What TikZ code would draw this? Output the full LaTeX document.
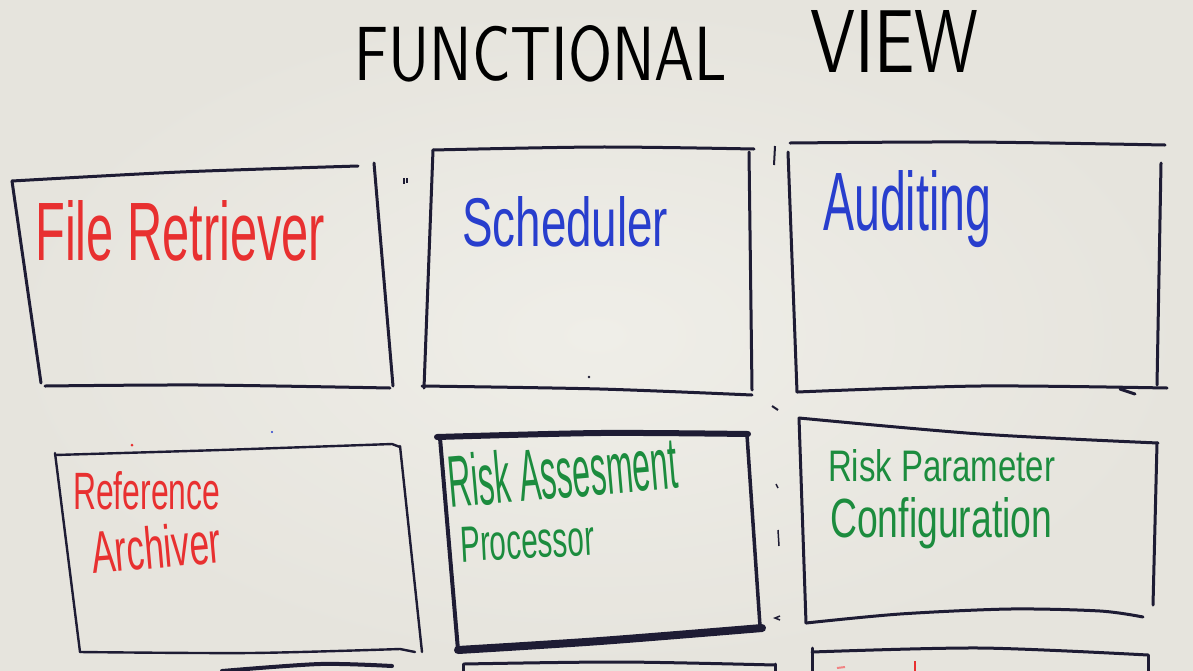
\documentclass[tikz,border=0pt]{standalone}
\usepackage{fontspec}
\setmainfont{Liberation Sans}
\usepackage{graphicx}

% marker colours on a flip-chart sheet
\definecolor{paper}{RGB}{230,228,221}
\definecolor{paperhi}{RGB}{239,238,232}
\definecolor{ink}{RGB}{30,28,52}
\definecolor{redpen}{RGB}{232,48,48}
\definecolor{bluepen}{RGB}{40,62,205}
\definecolor{greenpen}{RGB}{28,140,62}

% text squeezed into a given width and height (in pt)
\newcommand\handtext[3]{\resizebox{#1pt}{#2pt}{#3}}

\tikzset{
  pen/.style={draw=ink, line width=3pt, line cap=round, line join=round},
  thinpen/.style={pen, line width=2.4pt},
  heavypen/.style={pen, line width=6pt},
  label/.style={inner sep=0pt, anchor=base west},
}

\begin{document}
\begin{tikzpicture}[x=1pt,y=-1pt]
  \useasboundingbox (0,0) rectangle (1193,670);
  \shade[inner color=paperhi, outer color=paper] (0,0) rectangle (1193,670);

  % heading
  \node[label, font=\sffamily] (titleA) at (354,80) {\handtext{373}{55}{FUNCTIONAL}};
  \node[label, font=\sffamily] (titleB) at (810,72) {\handtext{168}{62}{VIEW}};

  % ---- top row ----
  % File Retriever
  \draw[pen] plot[smooth] coordinates {(12,181) (180,172) (358,166)};
  \draw[pen] (12,181) -- (41,383);
  \draw[pen] plot[smooth] coordinates {(45,386) (200,385) (390,388)};
  \draw[pen] (374,163) -- (393,386);
  \node[label, text=redpen] (fileret) at (35,260) {\handtext{290}{60}{File Retriever}};

  % Scheduler
  \draw[pen] plot[smooth] coordinates {(433,150) (600,147) (754,149)};
  \draw[pen] (433,150) -- (424,388);
  \draw[pen] plot[smooth] coordinates {(422,386) (600,389) (752,395)};
  \draw[pen] (749,152) -- (752,390);
  \node[label, text=bluepen] (sched) at (462,246) {\handtext{206}{50}{Scheduler}};

  % Auditing
  \draw[pen] plot[smooth] coordinates {(790,143) (970,142) (1165,145)};
  \draw[pen] (788,152) -- (797,392);
  \draw[pen] plot[smooth] coordinates {(797,392) (980,386) (1167,388)};
  \draw[pen] (1120,389) -- (1135,394);
  \draw[pen] (1161,163) -- (1157,385);
  \node[label, text=bluepen] (audit) at (823,230) {\handtext{168}{60}{Auditing}};

  % ---- middle row ----
  % Reference Archiver
  \draw[thinpen] plot[smooth] coordinates {(55,455) (220,450) (392,444)} -- (400,447);
  \draw[thinpen] (55,453) -- (80,652);
  \draw[thinpen] plot[smooth] coordinates {(80,652) (250,653) (400,649)} -- (415,652);
  \draw[thinpen] (400,446) -- (422,652);
  \node[label, text=redpen] (refA) at (73,509) {\handtext{147}{38}{Reference}};
  \node[label, text=redpen, rotate=5] (refB) at (93,574) {\handtext{130}{43}{Archiver}};

  % Risk Assesment Processor
  \draw[heavypen] plot[smooth] coordinates {(437,437) (600,433) (748,434)};
  \draw[pen, line width=4pt] (440,438) -- (458,650);
  \draw[pen, line width=8pt] plot[smooth] coordinates {(458,650) (600,641) (762,628)};
  \draw[pen, line width=3.5pt] (747,435) -- (760,626);
  \node[label, text=greenpen, rotate=5] (riskA) at (450,508) {\handtext{230}{53}{Risk Assesment}};
  \node[label, text=greenpen, rotate=3] (riskB) at (461,562) {\handtext{134}{35}{Processor}};

  % Risk Parameter Configuration
  \draw[pen] plot[smooth] coordinates {(799,418) (980,434) (1158,443)};
  \draw[pen] (799,418) -- (806,623);
  \draw[pen] plot[smooth] coordinates {(806,623) (900,614) (1010,609) (1100,611) (1143,617)};
  \draw[pen] (1157,443) -- (1153,605);
  \node[label, text=greenpen] (paramA) at (828,481) {\handtext{227}{32}{Risk Parameter}};
  \node[label, text=greenpen] (paramB) at (830,537) {\handtext{222}{40}{Configuration}};

  % ---- bottom row, cut off by the sheet edge ----
  \draw[pen, line width=4pt] plot[smooth] coordinates {(222,671) (320,664) (392,666)};
  \draw[pen] plot[smooth] coordinates {(464,664) (620,662) (775,665)};
  \draw[pen] (463,664) -- (463,672);
  \draw[pen] (775,664) -- (775,672);
  \draw[pen] plot[smooth] coordinates {(812,652) (980,648) (1148,655)};
  \draw[pen] (812,648) -- (812,672);
  \draw[pen] (1148,655) -- (1148,672);
  \draw[redpen, line width=2pt] (915,661) -- (915,672);
  \draw[redpen!60, line width=2pt] (837,668) -- (845,667);

  % stray marker touches
  \draw[ink, line width=1.5pt] (404,178) -- (404,184) (407,178) -- (407,183);
  \draw[ink, line width=2pt] (775,146) -- (774,165);
  \draw[ink, line width=2pt] (772,406) -- (778,410);
  \draw[ink, line width=1.5pt] (776,484) -- (778,488);
  \draw[ink, line width=1.5pt] (778,530) -- (779,546);
  \draw[ink, line width=1.5pt] (780,616) -- (775,618) -- (780,620);
  \fill[redpen] (132,445) circle (1.5);
  \fill[bluepen] (272,432) circle (1.2);
  \fill[ink] (589,377) circle (1.3);
\end{tikzpicture}
\end{document}
